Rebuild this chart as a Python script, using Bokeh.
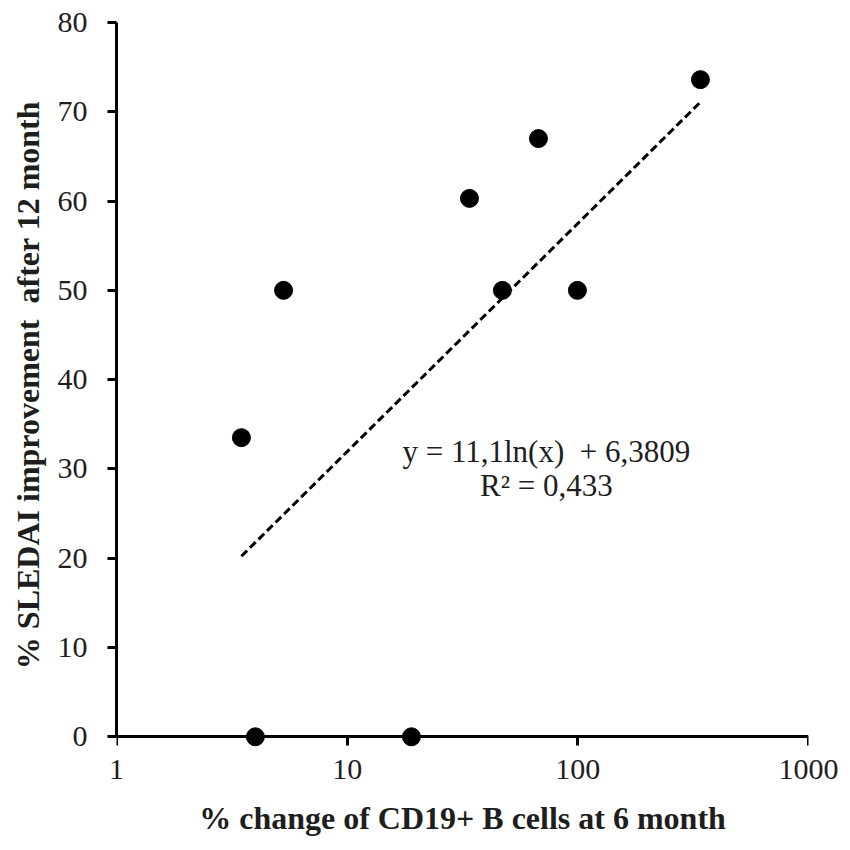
import numpy as np
from bokeh.plotting import figure
from bokeh.models import Range1d, FixedTicker, Label, BasicTickFormatter, LogAxis
from bokeh.embed import file_html
from bokeh.resources import INLINE

# data
x_vals = [3.48, 4.0, 5.3, 19.0, 33.9, 47.1, 67.5, 99.6, 340.0]
y_vals = [33.5, 0.0, 50.0, 0.0, 60.3, 50.0, 67.0, 50.0, 73.6]

# logarithmic trendline as printed on the chart: y = 11,1 ln(x) + 6,3809
trend_a = 11.1
trend_b = 6.3809
trend_x = np.array([min(x_vals), max(x_vals)])
trend_y = trend_a * np.log(trend_x) + trend_b

x_ticks = [1, 10, 100, 1000]
x_tick_labels = ["1", "10", "100", "1000"]
y_ticks = [0, 10, 20, 30, 40, 50, 60, 70, 80]

x_title = "% change of CD19+ B cells at 6 month"
y_title = "% SLEDAI improvement \u00a0after 12 month"
eq_line1 = "y = 11,1ln(x) \u00a0+ 6,3809"
eq_line2 = "R\u00b2 = 0,433"

FONT = "Liberation Serif"
TXT = "#1e1e1e"

p = figure(
    x_axis_type="log",
    x_range=Range1d(1, 1000),
    y_range=Range1d(-1.2, 80),
    frame_width=692,
    frame_height=725,
    min_border_left=116,
    min_border_right=32,
    min_border_top=22,
    min_border_bottom=10,
    output_backend="svg",
    toolbar_location=None,
    background_fill_color="white",
    border_fill_color="white",
)
p.outline_line_color = None
p.xgrid.visible = False
p.ygrid.visible = False

# x axis line + ticks, drawn at y = 0
xa = p.xaxis[0]
xa.fixed_location = 0
xa.ticker = FixedTicker(ticks=x_ticks)
xa.major_label_overrides = {t: "" for t in x_ticks}
xa.axis_line_color = "black"
xa.axis_line_width = 3
xa.major_tick_line_color = "black"
xa.major_tick_line_width = 3
xa.major_tick_out = 9
xa.major_tick_in = 0
xa.minor_tick_out = 0
xa.minor_tick_in = 0

# x tick labels and title in the panel below
xl = LogAxis(
    ticker=FixedTicker(ticks=x_ticks),
    formatter=BasicTickFormatter(use_scientific=False),
    major_label_overrides={t: l for t, l in zip(x_ticks, x_tick_labels)},
    axis_line_color=None,
    major_tick_line_color=None,
    minor_tick_line_color=None,
    major_tick_out=0, major_tick_in=0, minor_tick_out=0, minor_tick_in=0,
    major_label_standoff=12,
    major_label_text_font=FONT,
    major_label_text_font_size="30px",
    major_label_text_color=TXT,
    axis_label=x_title,
    axis_label_standoff=18,
    axis_label_text_font=FONT,
    axis_label_text_font_size="32px",
    axis_label_text_font_style="bold",
    axis_label_text_color=TXT,
)
p.add_layout(xl, "below")

ya = p.yaxis[0]
ya.bounds = (0, 80)
ya.ticker = FixedTicker(ticks=y_ticks)
ya.axis_line_color = "black"
ya.axis_line_width = 3
ya.major_tick_line_color = "black"
ya.major_tick_line_width = 3
ya.major_tick_out = 9
ya.major_tick_in = 0
ya.minor_tick_out = 0
ya.minor_tick_in = 0
ya.major_label_text_font = FONT
ya.major_label_text_font_size = "30px"
ya.major_label_text_color = TXT
ya.major_label_standoff = 20
ya.axis_label = y_title
ya.axis_label_standoff = 9
ya.axis_label_text_font = FONT
ya.axis_label_text_font_size = "32px"
ya.axis_label_text_font_style = "bold"
ya.axis_label_text_color = TXT

p.line(trend_x, trend_y, line_color="black", line_width=3, line_dash="8 4")
p.scatter(x_vals, y_vals, size=18, fill_color="black", line_color="black")

p.add_layout(Label(x=73, y=32.0, text=eq_line1, text_align="center",
                   text_baseline="middle", text_font=FONT,
                   text_font_size="31px", text_color=TXT))
p.add_layout(Label(x=73, y=28.1, text=eq_line2, text_align="center",
                   text_baseline="middle", text_font=FONT,
                   text_font_size="31px", text_color=TXT))

open("out.html", "w").write(file_html(p, INLINE))
